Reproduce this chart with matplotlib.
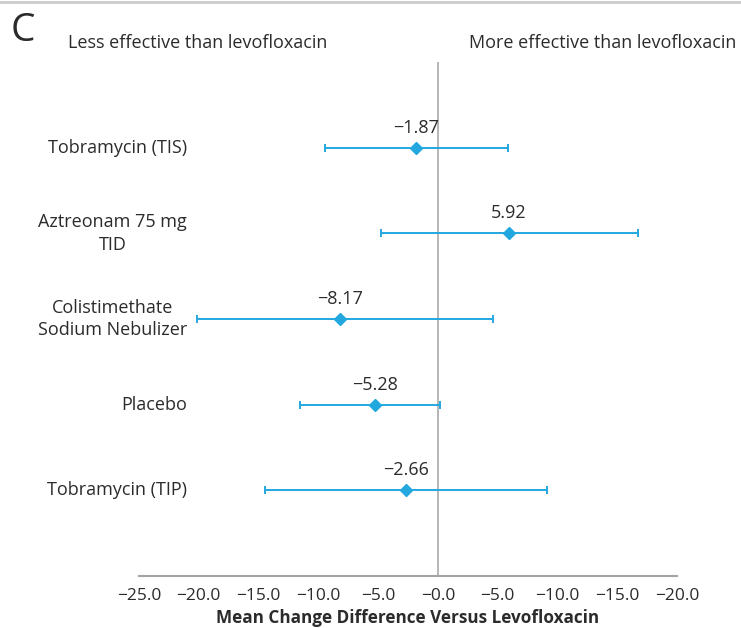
import matplotlib
matplotlib.use("Agg")
import matplotlib.pyplot as plt
import matplotlib.transforms as mtransforms
from matplotlib.lines import Line2D

plt.rcParams["font.family"] = ["Open Sans", "DejaVu Sans"]

# Data
treatments = [
    "Tobramycin (TIS)",
    "Aztreonam 75 mg\nTID",
    "Colistimethate\nSodium Nebulizer",
    "Placebo",
    "Tobramycin (TIP)",
]
mean_diff = [-1.87, 5.92, -8.17, -5.28, -2.66]
ci_low = [-9.45, -4.77, -20.15, -11.56, -14.46]
ci_high = [5.83, 16.7, 4.57, 0.17, 9.09]
value_labels = ["\u22121.87", "5.92", "\u22128.17", "\u22125.28", "\u22122.66"]

xtick_values = [-25, -20, -15, -10, -5, 0, 5, 10, 15, 20]
xtick_labels = ["\u221225.0", "\u221220.0", "\u221215.0", "\u221210.0", "\u22125.0",
                "\u22120.0", "\u22125.0", "\u221210.0", "\u221215.0", "\u221220.0"]

BLUE = "#22a7df"
TEXT = "#2b2b2b"
GRAY = "#a3a3a3"

fig = plt.figure(figsize=(7.41, 6.28), dpi=100)
ax = fig.add_axes([139 / 741, 1 - 576 / 628, 538 / 741, (576 - 62) / 628])

ypos = [5, 4, 3, 2, 1]

ax.axvline(0, color=GRAY, linewidth=1.1, zorder=1)

for y, m, lo, hi, lab in zip(ypos, mean_diff, ci_low, ci_high, value_labels):
    ax.errorbar(m, y, xerr=[[m - lo], [hi - m]], fmt="D", color=BLUE,
                markersize=6.5, elinewidth=1.4, capsize=3, capthick=1.4, zorder=3)
    ax.annotate(lab, (m, y), xytext=(0, 14.5), textcoords="offset points",
                ha="center", va="center", fontsize=13, color=TEXT)

trans = mtransforms.blended_transform_factory(ax.transAxes, ax.transData)
for y, name in zip(ypos, treatments):
    ax.text(0.089, y, name, transform=trans, ha="right", va="center",
            multialignment="center", fontsize=13, color=TEXT, linespacing=1.35)

ax.set_xlim(-25, 20)
ax.set_ylim(0, 6)
ax.set_yticks([])
ax.set_xticks(xtick_values)
ax.set_xticklabels(xtick_labels, fontsize=12.5, color=TEXT)
ax.tick_params(axis="x", length=0, pad=9)
for s in ["top", "right", "left"]:
    ax.spines[s].set_visible(False)
ax.spines["bottom"].set_color(GRAY)
ax.spines["bottom"].set_linewidth(1.5)
ax.set_xlabel("Mean Change Difference Versus Levofloxacin", fontsize=12.3,
              fontweight="bold", color=TEXT, labelpad=3)

# header texts
fig.text(11 / 741, 1 - 31 / 628, "C", fontsize=28, color=TEXT, va="center", ha="left")
fig.text(68 / 741, 1 - 43 / 628, "Less effective than levofloxacin", fontsize=13,
         color=TEXT, va="center", ha="left")
fig.text(736 / 741, 1 - 43 / 628, "More effective than levofloxacin", fontsize=13,
         color=TEXT, va="center", ha="right")
fig.add_artist(Line2D([0, 1], [1 - 2 / 628, 1 - 2 / 628], color="#cccccc",
                      linewidth=2, transform=fig.transFigure))

fig.savefig("out.png", dpi=100)
